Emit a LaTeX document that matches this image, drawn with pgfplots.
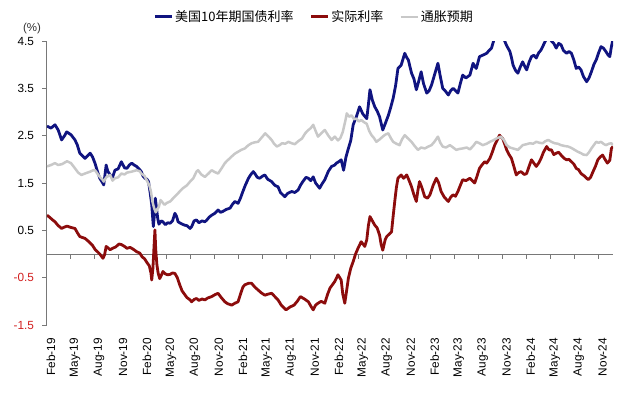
\documentclass[border=0pt]{standalone}
\usepackage{pgfplots}
\pgfplotsset{compat=1.18}
\usepackage{fontspec}
\setmainfont{Liberation Sans}
\newfontfamily\cjk{Noto Sans CJK SC}
\definecolor{cblue}{RGB}{16,20,128}
\definecolor{cred}{RGB}{140,12,12}
\definecolor{cgray}{RGB}{200,200,200}
\definecolor{negred}{RGB}{210,30,30}
\definecolor{axgray}{RGB}{120,120,120}
\begin{document}
\begin{tikzpicture}
\path[use as bounding box] (-47bp,-70bp) rectangle (593bp,325bp);
\begin{axis}[
  at={(0,0)}, anchor=south west,
  scale only axis, width=566bp, height=284bp,
  xmin=0, xmax=70.8, ymin=-1.5, ymax=4.5,
  axis y line*=left, axis x line*=bottom,
  x axis line style={draw=none},
  y axis line style={draw=axgray, line width=1bp},
  ytick={-1.5,-0.5,0.5,1.5,2.5,3.5,4.5},
  yticklabels={\textcolor{negred}{-1.5},\textcolor{negred}{-0.5},0.5,1.5,2.5,3.5,4.5},
  xtick={0,3,...,69},
  xticklabels={Feb-19,May-19,Aug-19,Nov-19,Feb-20,May-20,Aug-20,Nov-20,Feb-21,May-21,Aug-21,Nov-21,Feb-22,May-22,Aug-22,Nov-22,Feb-23,May-23,Aug-23,Nov-23,Feb-24,May-24,Aug-24,Nov-24},
  xtick style={draw=none},
  ytick style={draw=axgray, line width=1bp},
  tick align=outside, major tick length=4.5bp,
  tick label style={font=\fontsize{11.8bp}{13bp}\selectfont},
  yticklabel style={xshift=-5bp},
  xticklabel shift=5bp,
  xticklabel style={xshift=4bp, rotate=90, anchor=east},
  /pgf/number format/assume math mode=true,
  legend style={at={(0.472,1.085)}, anchor=center, draw=none, fill=none,
    legend columns=3, font=\cjk\fontsize{13bp}{15bp}\selectfont,
    /tikz/every even column/.append style={column sep=14bp},
    inner sep=0pt},
  legend image code/.code={\draw[#1] (0bp,0bp) -- (17bp,0bp);},
  every axis plot/.append style={line join=round},
]
\draw[axgray, line width=1bp] (axis cs:0,0) -- (axis cs:70.8,0);
\draw[axgray, line width=1bp]
  (axis cs:3,0) -- (axis cs:3,-0.1) (axis cs:6,0) -- (axis cs:6,-0.1) (axis cs:9,0) -- (axis cs:9,-0.1)
  (axis cs:12,0) -- (axis cs:12,-0.1) (axis cs:15,0) -- (axis cs:15,-0.1) (axis cs:18,0) -- (axis cs:18,-0.1)
  (axis cs:21,0) -- (axis cs:21,-0.1) (axis cs:24,0) -- (axis cs:24,-0.1) (axis cs:27,0) -- (axis cs:27,-0.1)
  (axis cs:30,0) -- (axis cs:30,-0.1) (axis cs:33,0) -- (axis cs:33,-0.1) (axis cs:36,0) -- (axis cs:36,-0.1)
  (axis cs:39,0) -- (axis cs:39,-0.1) (axis cs:42,0) -- (axis cs:42,-0.1) (axis cs:45,0) -- (axis cs:45,-0.1)
  (axis cs:48,0) -- (axis cs:48,-0.1) (axis cs:51,0) -- (axis cs:51,-0.1) (axis cs:54,0) -- (axis cs:54,-0.1)
  (axis cs:57,0) -- (axis cs:57,-0.1) (axis cs:60,0) -- (axis cs:60,-0.1) (axis cs:63,0) -- (axis cs:63,-0.1)
  (axis cs:66,0) -- (axis cs:66,-0.1) (axis cs:69,0) -- (axis cs:69,-0.1);
\addplot[cblue, line width=2.8bp] coordinates {
(0,2.70)(0.5,2.66)(1.0,2.73)(1.4,2.62)(1.83,2.41)(2.2,2.50)(2.46,2.58)(3.0,2.52)(3.5,2.41)(3.8,2.30)
(4.1,2.13)(4.4,2.08)(4.75,2.02)(5.1,2.08)(5.4,2.13)(5.7,2.05)(6.0,1.92)(6.3,1.75)(6.6,1.60)(6.9,1.52)
(7.1,1.46)(7.4,1.88)(7.6,1.75)(7.9,1.67)(8.2,1.62)(8.5,1.77)(8.9,1.80)(9.3,1.95)(9.7,1.82)(10.0,1.81)
(10.3,1.88)(10.6,1.92)(10.9,1.88)(11.2,1.85)(11.5,1.80)(11.8,1.74)(12.0,1.65)(12.25,1.60)(12.5,1.58)(12.7,1.53)
(12.9,1.30)(13.1,1.04)(13.3,0.58)(13.45,0.85)(13.55,1.18)(13.7,0.97)(13.85,0.75)(14.0,0.63)(14.3,0.70)(14.5,0.68)
(14.8,0.62)(15.1,0.66)(15.4,0.65)(15.7,0.70)(16.0,0.86)(16.2,0.80)(16.4,0.68)(16.8,0.64)(17.2,0.61)(17.5,0.60)
(17.9,0.54)(18.1,0.58)(18.4,0.70)(18.7,0.72)(19.0,0.66)(19.4,0.70)(19.75,0.68)(20.0,0.72)(20.3,0.78)(20.6,0.82)
(21.0,0.86)(21.4,0.93)(21.7,0.88)(22.0,0.90)(22.4,0.94)(22.9,0.97)(23.2,1.05)(23.5,1.11)(23.9,1.07)(24.2,1.18)
(24.5,1.32)(24.8,1.45)(25.2,1.60)(25.5,1.68)(25.8,1.74)(26.0,1.70)(26.3,1.62)(26.6,1.60)(27.0,1.65)(27.25,1.67)
(27.6,1.58)(28.1,1.53)(28.5,1.45)(28.9,1.42)(29.2,1.30)(29.5,1.25)(29.75,1.21)(30.1,1.28)(30.6,1.32)(31.0,1.30)
(31.4,1.35)(31.7,1.45)(32.0,1.53)(32.4,1.62)(32.7,1.60)(33.0,1.55)(33.3,1.63)(33.6,1.50)(34.1,1.39)(34.4,1.48)
(34.75,1.57)(35.2,1.75)(35.6,1.85)(36.0,1.88)(36.2,1.92)(36.5,1.95)(36.8,1.99)(37.1,1.77)(37.4,2.05)(37.7,2.23)
(38.0,2.40)(38.3,2.73)(38.7,2.90)(39.1,3.11)(39.5,2.96)(40.0,2.86)(40.2,3.15)(40.4,3.47)(40.7,3.25)(41.0,3.11)
(41.3,3.02)(41.6,2.90)(42.0,2.62)(42.3,2.75)(42.7,2.93)(43.0,3.10)(43.3,3.29)(43.6,3.55)(43.9,3.92)(44.3,3.99)
(44.5,4.10)(44.75,4.24)(45.0,4.15)(45.2,4.10)(45.6,3.82)(45.9,3.70)(46.2,3.47)(46.5,3.65)(46.8,3.85)(47.1,3.60)
(47.5,3.40)(47.8,3.45)(48.1,3.57)(48.5,3.80)(48.9,4.03)(49.2,3.75)(49.5,3.50)(49.8,3.45)(50.2,3.36)(50.5,3.45)
(50.8,3.50)(51.1,3.45)(51.4,3.40)(51.7,3.60)(52.0,3.78)(52.4,3.72)(52.9,3.78)(53.3,4.03)(53.5,3.96)(53.7,3.92)
(54.1,4.17)(54.5,4.20)(55.0,4.24)(55.3,4.30)(55.6,4.35)(55.9,4.52)(56.3,4.70)(56.8,4.85)(57.25,4.50)(57.5,4.40)
(57.9,4.28)(58.1,4.15)(58.3,3.99)(58.6,3.88)(58.9,3.82)(59.2,3.95)(59.5,4.06)(59.8,3.95)(60.0,3.89)(60.3,4.05)
(60.6,4.17)(60.9,4.20)(61.2,4.14)(61.5,4.25)(61.8,4.31)(62.0,4.38)(62.25,4.47)(62.7,4.62)(63.1,4.50)(63.4,4.45)
(63.7,4.35)(64.0,4.45)(64.3,4.42)(64.6,4.30)(65.0,4.24)(65.3,4.28)(65.6,4.24)(65.9,4.10)(66.2,3.92)(66.5,3.95)
(66.8,3.89)(67.1,3.75)(67.5,3.64)(67.8,3.72)(68.1,3.85)(68.4,4.00)(68.7,4.10)(69.0,4.25)(69.3,4.38)(69.6,4.35)
(69.9,4.28)(70.2,4.20)(70.4,4.17)(70.6,4.38)(70.8,4.55)
};
\addlegendentry{美国10年期国债利率}
\addplot[cred, line width=2.8bp] coordinates {
(0,0.82)(0.3,0.78)(0.7,0.72)(1.0,0.68)(1.4,0.60)(1.83,0.54)(2.2,0.57)(2.5,0.59)(3.0,0.56)(3.5,0.54)
(3.8,0.45)(4.1,0.37)(4.4,0.35)(4.75,0.33)(5.1,0.28)(5.4,0.23)(5.7,0.18)(6.0,0.10)(6.3,0.05)(6.6,0.00)
(7.0,-0.09)(7.2,-0.02)(7.4,0.16)(7.7,0.12)(7.9,0.09)(8.2,0.12)(8.6,0.15)(9.0,0.21)(9.3,0.20)(9.7,0.16)
(10.0,0.12)(10.4,0.14)(10.8,0.10)(11.2,0.05)(11.6,0.02)(11.9,-0.06)(12.2,-0.10)(12.5,-0.18)(12.8,-0.25)(13.0,-0.40)
(13.1,-0.55)(13.25,-0.30)(13.4,0.20)(13.5,0.51)(13.6,0.10)(13.75,-0.23)(13.9,-0.40)(14.1,-0.52)(14.3,-0.45)(14.5,-0.37)
(14.8,-0.42)(15.1,-0.44)(15.4,-0.43)(15.7,-0.40)(16.0,-0.41)(16.3,-0.50)(16.6,-0.65)(16.9,-0.78)(17.2,-0.85)(17.5,-0.92)
(17.9,-0.97)(18.1,-1.01)(18.4,-0.96)(18.7,-0.94)(19.0,-0.98)(19.4,-0.95)(19.75,-0.97)(20.1,-0.93)(20.6,-0.90)(21.0,-0.86)
(21.4,-0.83)(21.8,-0.92)(22.25,-1.01)(22.6,-1.05)(23.1,-1.08)(23.5,-1.04)(23.9,-1.01)(24.2,-0.85)(24.5,-0.70)(24.75,-0.65)
(25.2,-0.62)(25.6,-0.62)(26.0,-0.70)(26.4,-0.76)(26.8,-0.82)(27.25,-0.87)(27.6,-0.85)(28.1,-0.83)(28.5,-0.90)(28.9,-0.97)
(29.3,-1.08)(29.9,-1.18)(30.4,-1.12)(30.9,-1.08)(31.3,-1.00)(31.7,-0.90)(32.2,-0.95)(32.7,-1.01)(33.0,-1.10)(33.3,-1.18)
(33.6,-1.08)(33.9,-1.04)(34.3,-1.00)(34.75,-1.04)(35.1,-0.85)(35.4,-0.72)(36.0,-0.58)(36.4,-0.44)(36.8,-0.55)(37.0,-0.85)
(37.25,-1.04)(37.5,-0.75)(37.7,-0.51)(38.0,-0.30)(38.3,-0.16)(38.6,0.00)(38.9,0.12)(39.3,0.26)(39.75,0.16)(40.0,0.30)
(40.2,0.60)(40.4,0.79)(40.7,0.70)(41.0,0.61)(41.3,0.55)(41.6,0.40)(41.8,0.20)(42.0,0.08)(42.3,0.30)(42.5,0.37)
(42.8,0.42)(43.1,0.47)(43.3,0.80)(43.5,1.11)(43.7,1.40)(43.9,1.60)(44.3,1.67)(44.6,1.60)(45.0,1.67)(45.3,1.55)
(45.6,1.42)(45.9,1.25)(46.2,1.11)(46.4,1.35)(46.6,1.53)(46.9,1.40)(47.25,1.21)(47.6,1.18)(47.9,1.25)(48.3,1.45)
(48.7,1.60)(49.0,1.50)(49.3,1.32)(49.7,1.20)(50.2,1.11)(50.5,1.20)(50.8,1.25)(51.1,1.22)(51.4,1.32)(51.7,1.45)
(52.0,1.57)(52.4,1.55)(52.9,1.60)(53.2,1.55)(53.5,1.50)(53.8,1.65)(54.1,1.81)(54.4,1.88)(54.75,1.95)(55.0,1.92)
(55.4,2.02)(55.7,2.15)(56.0,2.30)(56.3,2.40)(56.6,2.51)(57.0,2.44)(57.3,2.30)(57.5,2.20)(57.8,2.10)(58.1,2.02)
(58.4,1.85)(58.7,1.67)(59.0,1.72)(59.3,1.74)(59.7,1.68)(60.0,1.70)(60.3,1.85)(60.6,1.99)(60.9,1.92)(61.2,1.85)
(61.5,1.92)(61.8,2.02)(62.1,2.15)(62.5,2.27)(62.8,2.20)(63.1,2.20)(63.4,2.10)(63.7,2.13)(64.0,2.15)(64.3,2.09)
(64.7,2.02)(65.0,1.99)(65.3,2.00)(65.6,1.95)(65.9,1.90)(66.2,1.81)(66.5,1.78)(66.8,1.70)(67.2,1.65)(67.7,1.57)
(68.0,1.62)(68.3,1.74)(68.6,1.85)(68.9,1.99)(69.2,2.05)(69.5,2.09)(69.8,2.00)(70.1,1.92)(70.4,1.98)(70.6,2.23)
(70.8,2.27)
};
\addlegendentry{实际利率}
\addplot[cgray, line width=2.5bp] coordinates {
(0,1.85)(0.5,1.88)(1.0,1.92)(1.4,1.88)(1.9,1.90)(2.5,1.96)(3.0,1.92)(3.5,1.81)(3.9,1.72)(4.3,1.67)
(4.75,1.70)(5.4,1.74)(5.8,1.77)(6.0,1.77)(6.3,1.70)(6.6,1.63)(6.9,1.58)(7.1,1.53)(7.4,1.62)(7.9,1.67)
(8.2,1.55)(8.5,1.60)(8.9,1.62)(9.3,1.70)(9.7,1.68)(10.0,1.72)(10.6,1.74)(11.2,1.77)(11.6,1.75)(11.8,1.70)
(12.2,1.65)(12.5,1.55)(12.8,1.45)(13.0,1.32)(13.2,1.10)(13.4,0.97)(13.6,0.88)(13.8,0.95)(14.0,1.00)(14.2,1.14)
(14.4,1.10)(14.7,1.04)(15.0,1.08)(15.4,1.11)(15.8,1.18)(16.2,1.25)(16.6,1.32)(17.0,1.39)(17.5,1.45)(17.9,1.53)
(18.3,1.60)(18.7,1.74)(18.9,1.77)(19.3,1.68)(19.75,1.63)(20.2,1.70)(20.6,1.77)(21.0,1.73)(21.4,1.70)(21.8,1.80)
(22.25,1.92)(22.6,1.98)(23.1,2.06)(23.5,2.12)(23.9,2.16)(24.3,2.20)(24.75,2.23)(25.2,2.30)(25.6,2.34)(26.0,2.36)
(26.4,2.37)(26.8,2.45)(27.3,2.55)(27.7,2.48)(28.1,2.41)(28.4,2.33)(28.75,2.27)(29.1,2.30)(29.4,2.34)(29.8,2.33)
(30.2,2.37)(30.6,2.34)(31.0,2.32)(31.4,2.38)(31.9,2.44)(32.3,2.55)(32.7,2.62)(33.0,2.66)(33.3,2.73)(33.6,2.60)
(33.9,2.48)(34.3,2.55)(34.75,2.62)(35.2,2.50)(35.6,2.41)(36.0,2.48)(36.4,2.40)(36.7,2.45)(37.0,2.58)(37.3,2.80)
(37.5,2.97)(37.8,2.90)(38.1,2.93)(38.4,2.85)(38.7,2.86)(39.0,2.80)(39.3,2.83)(39.7,2.78)(40.0,2.75)(40.3,2.60)
(40.6,2.51)(40.9,2.45)(41.2,2.37)(41.6,2.42)(42.0,2.48)(42.3,2.52)(42.7,2.55)(43.0,2.45)(43.3,2.37)(43.7,2.33)
(44.1,2.30)(44.4,2.42)(44.75,2.51)(45.1,2.45)(45.6,2.37)(46.0,2.28)(46.4,2.20)(46.8,2.25)(47.25,2.23)(47.7,2.27)
(48.1,2.30)(48.5,2.38)(48.9,2.48)(49.2,2.35)(49.5,2.27)(49.9,2.25)(50.4,2.30)(50.8,2.25)(51.2,2.20)(51.6,2.22)
(52.0,2.23)(52.5,2.25)(52.9,2.21)(53.3,2.28)(53.7,2.37)(54.1,2.34)(54.5,2.30)(55.0,2.33)(55.4,2.37)(55.8,2.40)
(56.2,2.44)(56.8,2.48)(57.2,2.40)(57.5,2.30)(57.9,2.25)(58.3,2.23)(58.9,2.20)(59.2,2.25)(59.5,2.30)(60.0,2.32)
(60.4,2.34)(60.8,2.33)(61.2,2.37)(61.6,2.35)(62.0,2.34)(62.3,2.38)(62.7,2.41)(63.1,2.37)(63.5,2.34)(63.9,2.33)
(64.3,2.30)(64.8,2.28)(65.2,2.27)(65.6,2.24)(66.0,2.20)(66.4,2.16)(66.8,2.13)(67.1,2.10)(67.5,2.09)(67.8,2.15)
(68.1,2.23)(68.4,2.30)(68.7,2.37)(69.0,2.35)(69.3,2.37)(69.6,2.33)(69.9,2.30)(70.3,2.33)(70.6,2.34)(70.8,2.30)
};
\addlegendentry{通胀预期}
\end{axis}
\node[font=\fontsize{11.5bp}{13bp}\selectfont, text=black!80] at (-15bp,296bp) {(\%)};
\end{tikzpicture}
\end{document}
